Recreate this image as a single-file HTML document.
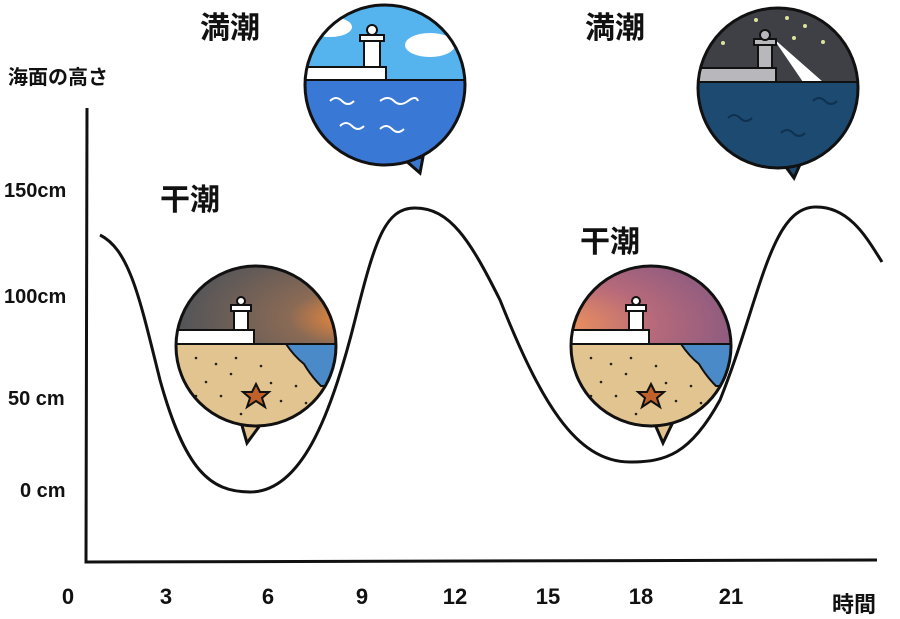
<!DOCTYPE html>
<html><head><meta charset="utf-8"><style>
html,body{margin:0;padding:0;background:#fff;}
svg{display:block}
text{font-family:"Liberation Sans","Noto Sans CJK JP",sans-serif;font-weight:bold;fill:#111}
</style></head><body>
<svg width="900" height="619" viewBox="0 0 900 619" xmlns="http://www.w3.org/2000/svg">
<defs>
<clipPath id="c"><circle cx="0" cy="0" r="80"/></clipPath>
<radialGradient id="sunL" cx="1" cy="0.7" r="0.9"><stop offset="0" stop-color="#f08a3a"/><stop offset="0.35" stop-color="#8a6a55"/><stop offset="1" stop-color="#555558"/></radialGradient>
<radialGradient id="sunR" cx="0" cy="0.8" r="1"><stop offset="0" stop-color="#f0945a"/><stop offset="0.5" stop-color="#b86a7a"/><stop offset="1" stop-color="#8a5a80"/></radialGradient>
</defs>

<!-- axes -->
<path d="M87 108 L86 562 L877 560" fill="none" stroke="#111" stroke-width="3"/>
<!-- curve -->
<path d="M100 235 C130 250,140 300,160 380 C185 470,210 492,250 492 C300 492,330 420,355 320 C375 240,385 208,415 208 C450 208,470 240,500 300 C540 400,575 462,630 462 C665 462,690 455,720 400 C760 300,770 208,815 207 C850 206,868 240,882 262" fill="none" stroke="#111" stroke-width="3"/>

<!-- labels -->
<text x="8" y="84" font-size="20">海面の高さ</text>
<text x="4" y="197" font-size="20">150cm</text>
<text x="4" y="303" font-size="20">100cm</text>
<text x="8" y="405" font-size="20">50 cm</text>
<text x="20" y="497" font-size="20">0 cm</text>
<g font-size="22" text-anchor="middle">
<text x="68" y="604">0</text><text x="166" y="604">3</text><text x="268" y="604">6</text><text x="362" y="604">9</text><text x="455" y="604">12</text><text x="548" y="604">15</text><text x="641" y="604">18</text><text x="731" y="604">21</text>
</g>
<text x="832" y="612" font-size="22">時間</text>
<text x="200" y="38" font-size="30">満潮</text>
<text x="585" y="38" font-size="30">満潮</text>
<text x="160" y="210" font-size="30">干潮</text>
<text x="580" y="252" font-size="30">干潮</text>

<!-- day high tide -->
<g transform="translate(385,85)">
<path d="M20 75 L35 88 L38 72Z" fill="#3a78d0" stroke="#111" stroke-width="3"/>
<g clip-path="url(#c)">
<rect x="-90" y="-90" width="180" height="85" fill="#55b4ee"/>
<rect x="-90" y="-5" width="180" height="95" fill="#3a78d6"/>
<ellipse cx="-55" cy="-58" rx="22" ry="10" fill="#fff"/>
<ellipse cx="45" cy="-40" rx="25" ry="12" fill="#fff"/>
<rect x="-82" y="-18" width="83" height="13" fill="#fff" stroke="#111" stroke-width="2"/>
<rect x="-21" y="-50" width="16" height="32" fill="#fff" stroke="#111" stroke-width="2"/>
<rect x="-25" y="-50" width="24" height="6" fill="#fff" stroke="#111" stroke-width="2"/>
<circle cx="-13" cy="-55" r="5" fill="#fff" stroke="#111" stroke-width="2"/>
<g stroke="#fff" stroke-width="2" fill="none"><path d="M-55 16 q6-6 12 0 t12 0"/><path d="M-5 16 q8-6 14 0 t14 0 t10 0"/><path d="M-45 41 q6-6 12 0 t12 0"/><path d="M-5 44 q6-6 12 0 t12 0"/></g>
<line x1="-90" y1="-5" x2="90" y2="-5" stroke="#111" stroke-width="2"/>
</g>
<circle r="80" fill="none" stroke="#111" stroke-width="3"/>
</g>

<!-- night high tide -->
<g transform="translate(778,88)">
<path d="M5 75 L16 90 L24 72Z" fill="#1c4a70" stroke="#111" stroke-width="3"/>
<g clip-path="url(#c)">
<rect x="-90" y="-90" width="180" height="84" fill="#3e4045"/>
<rect x="-90" y="-6" width="180" height="96" fill="#1c4a70"/>
<polygon points="-5,-50 45,-6 25,-6" fill="#fff"/>
<rect x="-82" y="-20" width="80" height="14" fill="#b8b8bc" stroke="#111" stroke-width="2"/>
<rect x="-20" y="-48" width="14" height="28" fill="#b8b8bc" stroke="#111" stroke-width="2"/>
<rect x="-24" y="-49" width="22" height="6" fill="#b8b8bc" stroke="#111" stroke-width="2"/>
<circle cx="-13" cy="-53" r="5" fill="#b8b8bc" stroke="#111" stroke-width="2"/>
<g fill="#dde39a"><circle cx="-55" cy="-45" r="2"/><circle cx="-22" cy="-68" r="2"/><circle cx="9" cy="-70" r="2"/><circle cx="27" cy="-62" r="2"/><circle cx="16" cy="-50" r="2"/><circle cx="45" cy="-46" r="2"/></g>
<g stroke="#103050" stroke-width="2" fill="none"><path d="M-50 30 q6-6 12 0 t12 0"/><path d="M35 13 q6-6 12 0 t12 0"/><path d="M3 45 q6-6 12 0 t12 0"/></g>
<line x1="-90" y1="-6" x2="90" y2="-6" stroke="#111" stroke-width="2"/>
</g>
<circle r="80" fill="none" stroke="#111" stroke-width="3"/>
</g>

<!-- low tide left -->
<g transform="translate(256,346)">
<path d="M-15 76 L-9 97 L5 78Z" fill="#e2c490" stroke="#111" stroke-width="3"/>
<g clip-path="url(#c)">
<rect x="-90" y="-90" width="180" height="88" fill="url(#sunL)"/>
<rect x="-90" y="-2" width="180" height="92" fill="#e2c490"/>
<path d="M30 -2 Q38 10 48 18 Q55 30 65 40 L90 40 L90 -2Z" fill="#4a8ac8" stroke="#111" stroke-width="2"/>
<rect x="-82" y="-16" width="80" height="14" fill="#fff" stroke="#111" stroke-width="2"/>
<rect x="-22" y="-40" width="14" height="24" fill="#fff" stroke="#111" stroke-width="2"/>
<rect x="-25" y="-41" width="20" height="6" fill="#fff" stroke="#111" stroke-width="2"/>
<circle cx="-15" cy="-45" r="4" fill="#fff" stroke="#111" stroke-width="2"/>
<polygon points="0,38 4,46 13,46 6,52 9,61 0,55 -9,61 -6,52 -13,46 -4,46" fill="#c0602a" stroke="#111" stroke-width="2"/>
<g fill="#222"><circle cx="-60" cy="12" r="1.3"/><circle cx="-40" cy="18" r="1.3"/><circle cx="-20" cy="12" r="1.3"/><circle cx="5" cy="20" r="1.3"/><circle cx="-50" cy="36" r="1.3"/><circle cx="-25" cy="28" r="1.3"/><circle cx="15" cy="37" r="1.3"/><circle cx="40" cy="40" r="1.3"/><circle cx="-35" cy="50" r="1.3"/><circle cx="25" cy="55" r="1.3"/><circle cx="-15" cy="68" r="1.3"/><circle cx="-60" cy="50" r="1.3"/><circle cx="50" cy="57" r="1.3"/></g>
<line x1="-90" y1="-2" x2="90" y2="-2" stroke="#111" stroke-width="2"/>
</g>
<circle r="80" fill="none" stroke="#111" stroke-width="3"/>
</g>

<!-- low tide right -->
<g transform="translate(651,346)">
<path d="M3 76 L12 97 L22 76Z" fill="#e2c490" stroke="#111" stroke-width="3"/>
<g clip-path="url(#c)">
<rect x="-90" y="-90" width="180" height="88" fill="url(#sunR)"/>
<rect x="-90" y="-2" width="180" height="92" fill="#e2c490"/>
<path d="M30 -2 Q38 10 48 18 Q55 30 65 40 L90 40 L90 -2Z" fill="#4a8ac8" stroke="#111" stroke-width="2"/>
<rect x="-82" y="-16" width="80" height="14" fill="#fff" stroke="#111" stroke-width="2"/>
<rect x="-22" y="-40" width="14" height="24" fill="#fff" stroke="#111" stroke-width="2"/>
<rect x="-25" y="-41" width="20" height="6" fill="#fff" stroke="#111" stroke-width="2"/>
<circle cx="-15" cy="-45" r="4" fill="#fff" stroke="#111" stroke-width="2"/>
<polygon points="0,38 4,46 13,46 6,52 9,61 0,55 -9,61 -6,52 -13,46 -4,46" fill="#c0602a" stroke="#111" stroke-width="2"/>
<g fill="#222"><circle cx="-60" cy="12" r="1.3"/><circle cx="-40" cy="18" r="1.3"/><circle cx="-20" cy="12" r="1.3"/><circle cx="5" cy="20" r="1.3"/><circle cx="-50" cy="36" r="1.3"/><circle cx="-25" cy="28" r="1.3"/><circle cx="15" cy="37" r="1.3"/><circle cx="40" cy="40" r="1.3"/><circle cx="-35" cy="50" r="1.3"/><circle cx="25" cy="55" r="1.3"/><circle cx="-15" cy="68" r="1.3"/><circle cx="-60" cy="50" r="1.3"/><circle cx="50" cy="57" r="1.3"/></g>
<line x1="-90" y1="-2" x2="90" y2="-2" stroke="#111" stroke-width="2"/>
</g>
<circle r="80" fill="none" stroke="#111" stroke-width="3"/>
</g>
</svg>
</body></html>
